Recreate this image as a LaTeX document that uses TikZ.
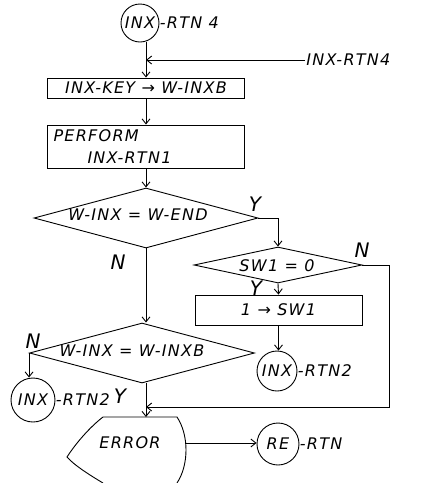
\documentclass[tikz,border=0pt]{standalone}
\usepackage{fontspec}
\setmainfont{DejaVu Sans}[LetterSpace=8]
\usetikzlibrary{arrows.meta,shapes.geometric}

\begin{document}
\begin{tikzpicture}[x=1pt,y=-1pt,line width=.9pt,
    every node/.style={font=\fontsize{16}{18}\selectfont\itshape},
    proc/.style={draw,rectangle,inner sep=2pt},
    test/.style={draw,diamond,aspect=4,inner sep=0pt},
    conn/.style={draw,circle,inner sep=0pt},
    yn/.style={font=\fontsize{20}{20}\selectfont\itshape},
    flow/.style={-{Straight Barb[length=5pt,width=8pt]}}]
  \useasboundingbox (0,0) rectangle (442,483);
  % entry and return point
  \node[conn,minimum size=38pt] (in4) at (140,23) {INX};
  \node[anchor=west,inner sep=0pt] (in4l) at (in4.east) {-RTN 4};
  \node[anchor=west,inner sep=1pt] (back4) at (305,60) {INX-RTN4};
  \node[proc,minimum width=197pt,minimum height=20pt] (key) at (146,88) {INX-KEY → W-INXB};
  \node[proc,minimum width=197pt,minimum height=43pt,text width=185pt,align=left,
        font=\fontsize{16}{22}\selectfont\itshape] (rtn1) at (146,146.5)
        {PERFORM\\\hspace*{34pt}INX-RTN1};
  % tests
  \node[test,minimum width=224pt,minimum height=60pt] (end) at (146,218) {};
  \node (endt) at (138,215) {W-INX = W-END};
  \node[test,minimum width=168pt,minimum height=36pt] (sw) at (278,265) {};
  \node (swt) at (277,266) {SW1 = 0};
  \node[proc,minimum width=167pt,minimum height=30pt] (set) at (278.5,310) {1 → SW1};
  \node[conn,minimum size=40pt] (r2a) at (277,371) {INX};
  \node[anchor=west,inner sep=0pt] (r2al) at (r2a.east) {-RTN2};
  \node[test,minimum width=225pt,minimum height=60pt] (same) at (142,353) {};
  \node (samet) at (132,351) {W-INX = W-INXB};
  \node[conn,minimum size=44pt] (r2b) at (33,400) {INX};
  \node[anchor=west,inner sep=0pt] (r2bl) at (r2b.east) {-RTN2};
  % error exit
  \coordinate (jn) at (146,407);
  \coordinate (errtop) at (146,417);
  \coordinate (erre) at (185,443);
  \node (err) at (130,443) {ERROR};
  \draw (103,483) .. controls (88,474) and (74,465) .. (67,457)
        .. controls (76,443) and (90,427) .. (103,417) -- (177,417)
        .. controls (189,435) and (189,465) .. (177,483);
  \node[conn,minimum size=42pt] (re) at (278,444) {RE};
  \node[anchor=west,inner sep=0pt] (rel) at (re.east) {-RTN};
  % Y / N
  \node[yn] at (255,204) {Y};
  \node[yn] at (118,262) {N};
  \node[yn] at (362,250) {N};
  \node[yn] at (256,288) {Y};
  \node[yn] at (33,341) {N};
  \node[yn] at (120,396) {Y};
  % flow lines
  \draw[flow] (in4.south -| key.north) -- (key.north);
  \draw[flow] (back4.west) -- (back4.west -| key.north);
  \draw[flow] (key.south) -- (rtn1.north);
  \draw[flow] (rtn1.south) -- (end.north);
  \draw[flow] (end.east) -| (sw.north);
  \draw[flow] (end.south) -- (end.south |- same.north);
  \draw[flow] (sw.east) -- ++(27,0) |- (jn);
  \draw[flow] (sw.south) -- (set.north);
  \draw[flow] (set.south) -- (set.south |- r2a.north);
  \draw[flow] (same.west) -- (same.west |- r2b.north);
  \draw[flow] (end.south |- same.south) -- (errtop);
  \draw[flow] (erre) -- (re.west |- erre);
\end{tikzpicture}
\end{document}
